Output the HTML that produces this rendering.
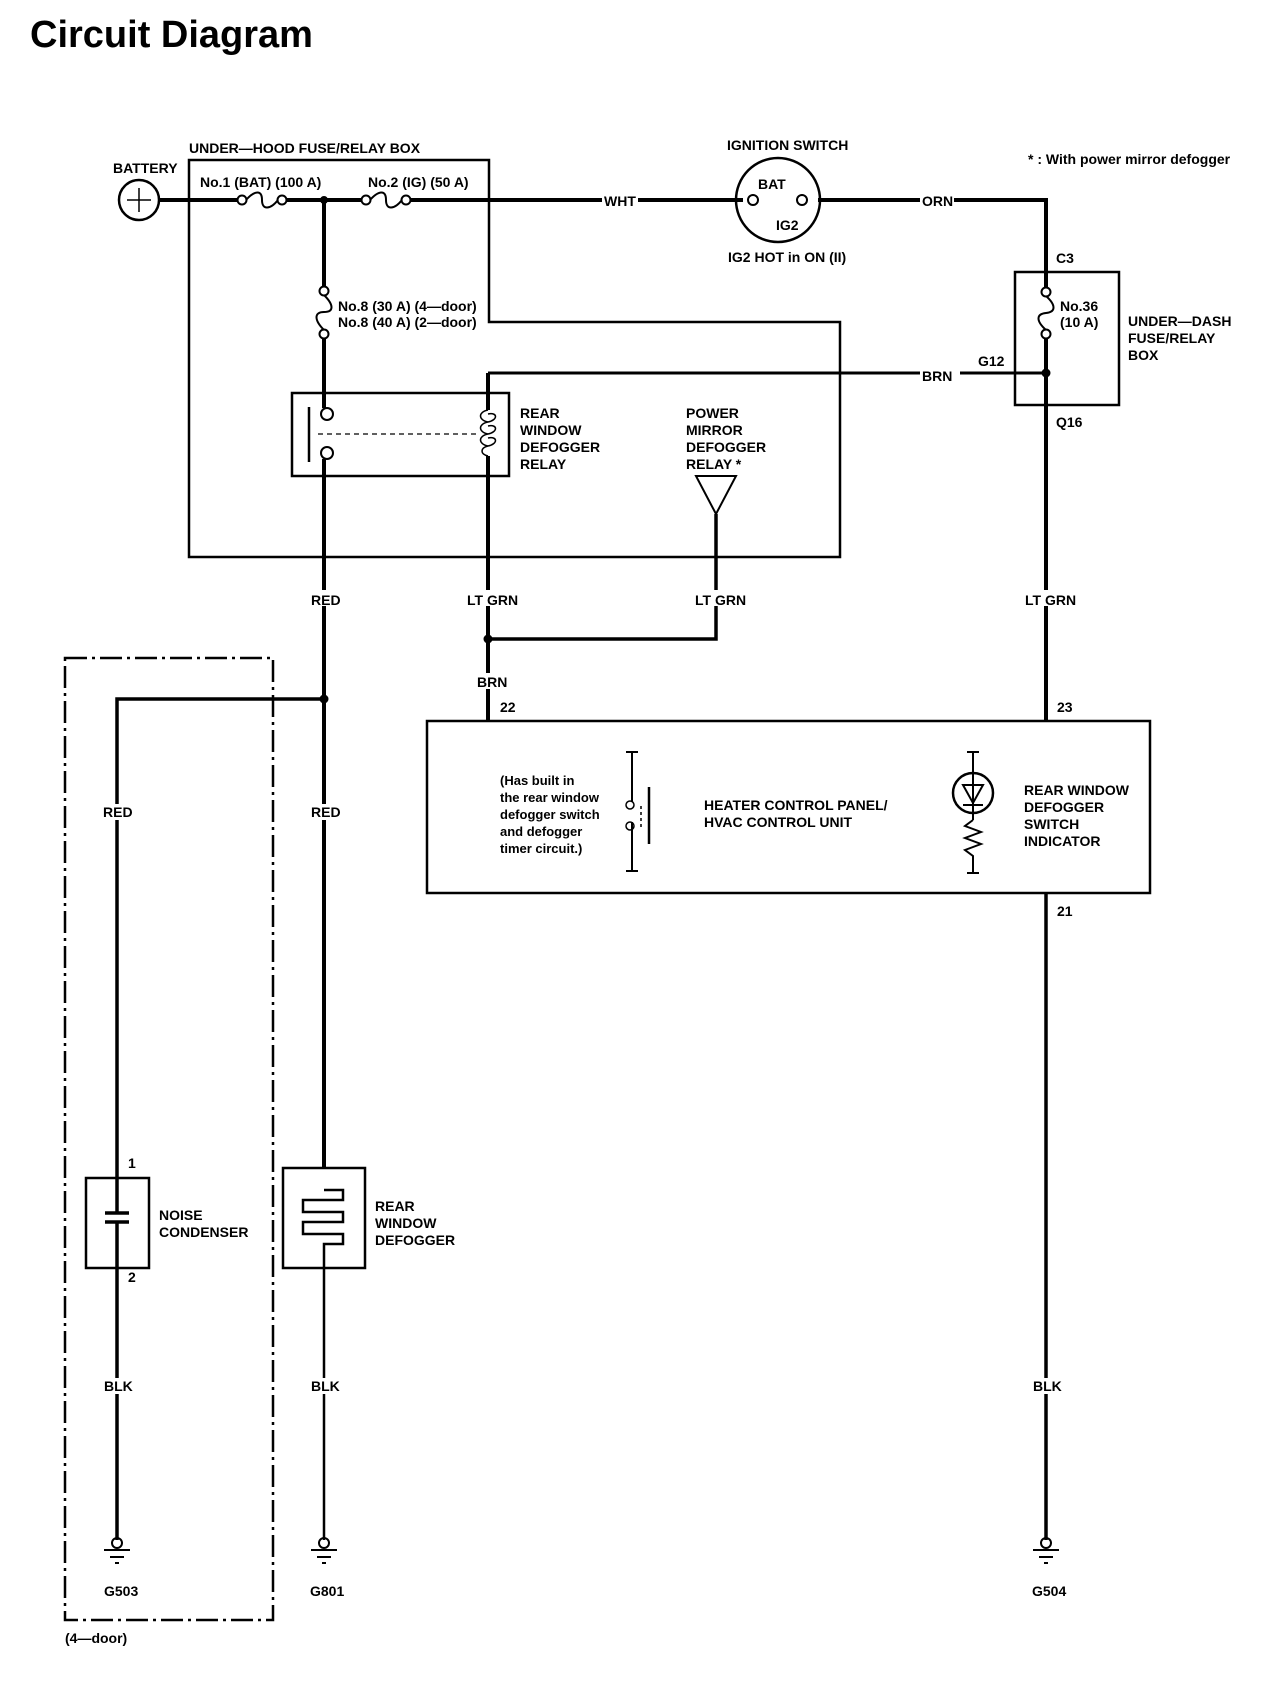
<!DOCTYPE html>
<html><head><meta charset="utf-8"><style>
html,body{margin:0;padding:0;background:#fff;}
svg{display:block}
text{font-family:"Liberation Sans Narrow","Liberation Sans",sans-serif;font-weight:bold;fill:#000;font-size:14px}
</style></head><body>
<svg width="1280" height="1682" viewBox="0 0 1280 1682" xmlns="http://www.w3.org/2000/svg">
<text x="30" y="47" style="font-family:'Liberation Sans',sans-serif;font-size:38px;font-weight:bold">Circuit Diagram</text>

<g fill="none" stroke="#000">
<path d="M189,160 H489 V322 H840 V557 H189 Z" stroke-width="2.5"/>
<path d="M160,200 H238 M286,200 H362 M410,200 H743 M818,200 H1046 V283" stroke-width="4"/>
<circle cx="139" cy="200" r="20" stroke-width="2.5"/>
<path d="M139,188 V212 M127,200 H151" stroke-width="1.5"/>
<circle cx="242" cy="200" r="4.5" stroke-width="2"/><circle cx="282" cy="200" r="4.5" stroke-width="2"/>
<path d="M246,200 C255,190 262,190 262,200 C262,210 270,210 278,200" stroke-width="2"/>
<circle cx="366" cy="200" r="4.5" stroke-width="2"/><circle cx="406" cy="200" r="4.5" stroke-width="2"/>
<path d="M370,200 C379,190 386,190 386,200 C386,210 394,210 402,200" stroke-width="2"/>
<path d="M324,200 V287 M324,338 V408 M324,459 V1168" stroke-width="4"/>
<circle cx="324" cy="291" r="4.5" stroke-width="2"/><circle cx="324" cy="334" r="4.5" stroke-width="2"/>
<path d="M324,295 C334,305 334,312 324,312 C314,312 314,320 324,330" stroke-width="2"/>
<rect x="292" y="393" width="217" height="83" stroke-width="2.5"/>
<circle cx="327" cy="414" r="6" stroke-width="2"/><circle cx="327" cy="453" r="6" stroke-width="2"/>
<path d="M309,407 V462" stroke-width="2.5"/>
<path d="M318,434 H480" stroke-width="1.2" stroke-dasharray="5,4"/>
<path d="M488,373 V410 M488,456 V639 M488,639 V720" stroke-width="4"/>
<path d="M488,410 C478,412 478,420 488,422 C498,420 498,412 488,414 M488,422 C478,424 478,432 488,434 C498,432 498,424 488,426 M488,434 C478,436 478,444 488,446 C498,444 498,436 488,438 M488,446 C480,448 480,454 488,456" stroke-width="1.5"/>
<path d="M488,373 H920 M960,373 H1046" stroke-width="3"/>
<path d="M696,476 H736 L716,514 Z" stroke-width="2"/>
<path d="M716,514 V639 H488" stroke-width="3.5"/>
<circle cx="778" cy="200" r="42" stroke-width="2.5"/>
<circle cx="753" cy="200" r="5" stroke-width="2"/><circle cx="802" cy="200" r="5" stroke-width="2"/>
<rect x="1015" y="272" width="104" height="133" stroke-width="2.5"/>
<path d="M1046,283 V288 M1046,338 V720" stroke-width="4"/>
<circle cx="1046" cy="292" r="4.5" stroke-width="2"/><circle cx="1046" cy="334" r="4.5" stroke-width="2"/>
<path d="M1046,296 C1056,305 1056,312 1046,313 C1036,314 1036,321 1046,330" stroke-width="2"/>
<rect x="427" y="721" width="723" height="172" stroke-width="2.5"/>
<path d="M632,753 V802 M632,822 V870 M626,752 H638 M626,871 H638" stroke-width="2"/>
<circle cx="630" cy="805" r="4" stroke-width="1.5"/><circle cx="630" cy="826" r="4" stroke-width="1.5"/>
<path d="M649,787 V844" stroke-width="2.5"/>
<path d="M641,806 V827" stroke-width="1.5" stroke-dasharray="3,3"/>
<circle cx="973" cy="793" r="20" stroke-width="2.5"/>
<path d="M973,753 V820 M967,752 H979 M963,785 H983 L973,803 Z M963,805 H983" stroke-width="2"/>
<path d="M973,820 L965,826 L981,832 L965,838 L981,844 L965,850 L973,856 V872 M967,873 H979" stroke-width="2"/>
<path d="M1046,893 V1540" stroke-width="3.5"/>
<path d="M324,699 H117 V1213 M117,1222 V1540" stroke-width="3.5"/>
<circle cx="324" cy="699" r="4" fill="#000"/>
<circle cx="324" cy="200" r="3.5" fill="#000"/>
<circle cx="488" cy="639" r="4" fill="#000"/>
<circle cx="1046" cy="373" r="4" fill="#000"/>
<rect x="65" y="658" width="208" height="962" stroke-width="2.5" stroke-dasharray="22,5,3,5"/>
<rect x="86" y="1178" width="63" height="90" stroke-width="2.5"/>
<path d="M105,1213 H129 M105,1222 H129" stroke-width="3.5"/>
<rect x="283" y="1168" width="82" height="100" stroke-width="2.5"/>
<path d="M324,1268 V1540 M324,1190 H343 V1200 H303 V1212 H343 V1222 H303 V1234 H343 V1244 H324 V1268" stroke-width="2.5"/>
<g stroke-width="2">
<circle cx="117" cy="1543" r="5"/><path d="M104,1550 H130 M110,1557 H124 M115,1563 H119"/>
<circle cx="324" cy="1543" r="5"/><path d="M311,1550 H337 M317,1557 H331 M322,1563 H326"/>
<circle cx="1046" cy="1543" r="5"/><path d="M1033,1550 H1059 M1039,1557 H1053 M1044,1563 H1048"/>
</g>
</g>

<g fill="#fff">
<rect x="602" y="192" width="36" height="16"/><rect x="920" y="192" width="34" height="16"/>
<rect x="920" y="365" width="34" height="16"/>
<rect x="308" y="590" width="34" height="16"/><rect x="466" y="590" width="46" height="16"/><rect x="694" y="590" width="46" height="16"/><rect x="1024" y="590" width="46" height="16"/>
<rect x="474" y="673" width="28" height="16"/>
<rect x="100" y="804" width="34" height="16"/><rect x="308" y="804" width="34" height="16"/>
<rect x="102" y="1378" width="30" height="16"/><rect x="309" y="1378" width="30" height="16"/><rect x="1031" y="1378" width="30" height="16"/>
</g>

<text x="189" y="153">UNDER—HOOD FUSE/RELAY BOX</text>
<text x="113" y="173">BATTERY</text>
<text x="200" y="187">No.1 (BAT) (100 A)</text>
<text x="368" y="187">No.2 (IG) (50 A)</text>
<text x="604" y="206">WHT</text>
<text x="727" y="150">IGNITION SWITCH</text>
<text x="758" y="189">BAT</text>
<text x="776" y="230">IG2</text>
<text x="728" y="262">IG2 HOT in ON (II)</text>
<text x="1028" y="164">* :    With power mirror defogger</text>
<text x="922" y="206">ORN</text>
<text x="1056" y="263">C3</text>
<text x="1060" y="311">No.36</text>
<text x="1060" y="327">(10 A)</text>
<text x="1128" y="326">UNDER—DASH</text>
<text x="1128" y="343">FUSE/RELAY</text>
<text x="1128" y="360">BOX</text>
<text x="978" y="366">G12</text>
<text x="922" y="381">BRN</text>
<text x="1056" y="427">Q16</text>
<text x="338" y="311">No.8 (30 A) (4—door)</text>
<text x="338" y="327">No.8 (40 A) (2—door)</text>
<text x="520" y="418">REAR</text><text x="520" y="435">WINDOW</text><text x="520" y="452">DEFOGGER</text><text x="520" y="469">RELAY</text>
<text x="686" y="418">POWER</text><text x="686" y="435">MIRROR</text><text x="686" y="452">DEFOGGER</text><text x="686" y="469">RELAY *</text>
<text x="311" y="605">RED</text><text x="467" y="605">LT GRN</text><text x="695" y="605">LT GRN</text><text x="1025" y="605">LT GRN</text>
<text x="477" y="687">BRN</text>
<text x="500" y="712">22</text><text x="1057" y="712">23</text><text x="1057" y="916">21</text>
<text x="500" y="785" style="font-size:13px">(Has built in</text>
<text x="500" y="802" style="font-size:13px">the rear window</text>
<text x="500" y="819" style="font-size:13px">defogger switch</text>
<text x="500" y="836" style="font-size:13px">and defogger</text>
<text x="500" y="853" style="font-size:13px">timer circuit.)</text>
<text x="704" y="810">HEATER CONTROL PANEL/</text>
<text x="704" y="827">HVAC CONTROL UNIT</text>
<text x="1024" y="795">REAR WINDOW</text><text x="1024" y="812">DEFOGGER</text><text x="1024" y="829">SWITCH</text><text x="1024" y="846">INDICATOR</text>
<text x="103" y="817">RED</text><text x="311" y="817">RED</text>
<text x="128" y="1168">1</text><text x="128" y="1282">2</text>
<text x="159" y="1220">NOISE</text><text x="159" y="1237">CONDENSER</text>
<text x="375" y="1211">REAR</text><text x="375" y="1228">WINDOW</text><text x="375" y="1245">DEFOGGER</text>
<text x="104" y="1391">BLK</text><text x="311" y="1391">BLK</text><text x="1033" y="1391">BLK</text>
<text x="104" y="1596">G503</text><text x="310" y="1596">G801</text><text x="1032" y="1596">G504</text>
<text x="65" y="1643">(4—door)</text>
</svg>
</body></html>
